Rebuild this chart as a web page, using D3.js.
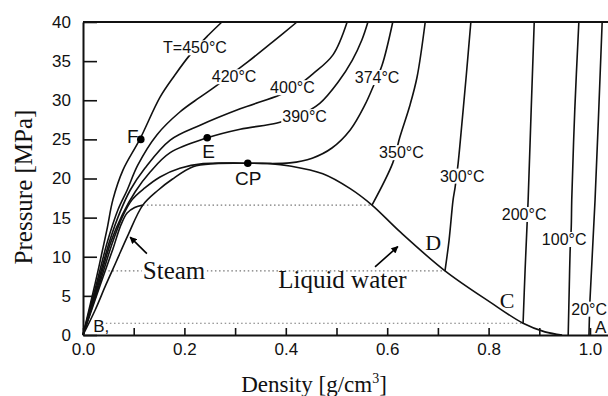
<!DOCTYPE html>
<html><head><meta charset="utf-8">
<script src="https://cdn.jsdelivr.net/npm/d3@7"></script>
<style>body{margin:0;background:#fff}svg{display:block}</style>
</head><body><svg id="c" width="608" height="396"></svg>
<script>
// ---- data (density g/cm3, pressure MPa) ----
const xTicks = [0,0.1,0.2,0.3,0.4,0.5,0.6,0.7,0.8,0.9,1.0];
const xTickLabels = ["0.0","","0.2","","0.4","","0.6","","0.8","","1.0"];
const yTicks = [0,5,10,15,20,25,30,35,40];

const iso450 = [[0,0],[0.024,6.6],[0.047,13.4],[0.059,17.3],[0.079,21.1],[0.112,25.0],[0.152,30.4],[0.181,33.2],[0.211,35.8],[0.247,38.3],[0.274,40]];
const iso420 = [[0,0],[0.026,6.4],[0.049,12.1],[0.069,16.0],[0.087,18.5],[0.108,21.7],[0.146,25.6],[0.191,28.5],[0.231,30.4],[0.264,31.9],[0.294,33.4],[0.325,34.9],[0.373,37.4],[0.422,40]];
const iso400 = [[0,0],[0.028,6.4],[0.053,12.1],[0.073,15.7],[0.093,18.5],[0.122,21.3],[0.172,24.9],[0.231,26.8],[0.310,28.9],[0.389,30.7],[0.422,31.8],[0.454,33.4],[0.493,35.8],[0.521,40]];
const iso390 = [[0,0],[0.030,6.4],[0.055,11.9],[0.077,15.3],[0.103,18.3],[0.132,20.8],[0.172,23.3],[0.245,25.2],[0.310,26.3],[0.383,27.1],[0.428,28.1],[0.467,29.6],[0.503,32.3],[0.531,35.1],[0.550,37.7],[0.562,40]];
const iso374 = [[0,0],[0.032,6.4],[0.057,11.6],[0.077,15.0],[0.097,17.3],[0.122,18.8],[0.152,20.2],[0.191,21.3],[0.237,21.9],[0.325,21.95],[0.408,22.0],[0.452,22.6],[0.491,23.9],[0.527,26.2],[0.556,29.4],[0.572,31.7],[0.590,34.5],[0.611,40]];
const iso350Vapor = [[0,0],[0.034,6.4],[0.059,11.0],[0.075,14.1],[0.087,15.6],[0.102,16.3],[0.118,16.6]];
const iso350Liquid = [[0.570,16.6],[0.611,22.0],[0.625,25.3],[0.645,29.4],[0.659,33.0],[0.675,40]];
const iso300 = [[0.714,8.2],[0.722,12.1],[0.730,17.3],[0.734,18.9],[0.740,22.0],[0.748,27.5],[0.756,33.2],[0.765,40]];
const iso200 = [[0.868,1.5],[0.872,8.3],[0.876,14.3],[0.878,17.3],[0.884,28.8],[0.890,40]];
const iso100 = [[0.957,0],[0.959,5.8],[0.961,11.1],[0.963,13.7],[0.964,17.3],[0.970,28.8],[0.978,40]];
const iso20 = [[0.998,0],[1.000,4.5],[1.010,17.3],[1.024,40]];
const satCurve = [[0,0],[0.024,3.2],[0.045,6.4],[0.065,9.3],[0.089,12.8],[0.118,16.6],[0.148,18.5],[0.176,19.9],[0.217,21.5],[0.260,21.9],[0.325,21.95],
  [0.369,21.9],[0.408,21.6],[0.473,20.6],[0.527,18.7],[0.570,16.6],[0.625,13.2],[0.714,8.2],[0.803,4.2],[0.868,1.5],[0.911,0.4],[0.945,0]];
const tiePressure = [16.6, 8.2, 1.5];
const tieVapor = [0.118, 0.050, 0.045];
const tieLiquid = [0.570, 0.714, 0.868];
const pointNames = ["F","E","CP"];
const pointDensity = [0.114, 0.245, 0.325];
const pointPressure = [25.0, 25.2, 21.95];

// labels: text, anchor (density, pressure), family, size, halo
const labels = [
  ["T=450°C",0.158,36.0,"s",16,1],["420°C",0.254,32.3,"s",16,1],["400°C",0.369,30.9,"s",16,1],
  ["390°C",0.393,27.2,"s",16,1],["374°C",0.536,32.2,"s",16,1],["350°C",0.584,22.6,"s",16,1],
  ["300°C",0.704,19.6,"s",16,1],["200°C",0.826,14.7,"s",16,1],["100°C",0.905,11.5,"s",16,1],
  ["20°C",0.963,2.6,"s",16,1],["A",1.010,0.26,"s",17,0],["B,",0.020,0.4,"s",17,0],
  ["C",0.822,3.5,"r",22,0],["D",0.675,10.9,"r",22,0],["CP",0.300,19.2,"s",19,0],
  ["E",0.235,22.6,"s",19,0],["F",0.087,24.5,"s",19,0],
  ["Steam",0.118,7.2,"r",25,1],["Liquid water",0.385,6.0,"r",25,0]
];
const arrows = [[0.126,10.4,0.093,12.5],[0.576,8.7,0.621,11.3]];

// ---- drawing ----
const SANS = "'Liberation Sans', Arial, Helvetica, sans-serif";
const SERIF = "'Liberation Serif', 'Times New Roman', serif";
const svg = d3.select("#c");
const x = d3.scaleLinear().domain([0, 1.0355]).range([83, 608]);
const y = d3.scaleLinear().domain([0, 40]).range([335, 22]);
const line = d3.line().x(d => x(d[0])).y(d => y(d[1])).curve(d3.curveCatmullRom.alpha(0.5));

svg.append("defs").append("marker").attr("id","ah").attr("viewBox","0 0 10 10")
  .attr("refX",9).attr("refY",5).attr("markerWidth",9).attr("markerHeight",7)
  .attr("markerUnits","userSpaceOnUse").attr("orient","auto")
  .append("path").attr("d","M0,0 L10,5 L0,10 Z").attr("fill","#000");

// tie lines
svg.append("g").selectAll("line").data(tiePressure).join("line")
  .attr("x1",(d,i)=>x(tieVapor[i])).attr("x2",(d,i)=>x(tieLiquid[i]))
  .attr("y1",d=>y(d)).attr("y2",d=>y(d))
  .attr("stroke","#777").attr("stroke-width",1.2).attr("stroke-dasharray","1.5,2.6");

const curves = [iso450, iso420, iso400, iso390, iso374, iso350Vapor, iso350Liquid, iso300, iso200, iso100, iso20, satCurve];
svg.append("g").selectAll("path").data(curves).join("path")
  .attr("d", line).attr("fill","none").attr("stroke","#111").attr("stroke-width",1.6);

// arrows
svg.append("g").selectAll("line").data(arrows).join("line")
  .attr("x1",d=>x(d[0])).attr("y1",d=>y(d[1])).attr("x2",d=>x(d[2])).attr("y2",d=>y(d[3]))
  .attr("stroke","#000").attr("stroke-width",1.6).attr("marker-end","url(#ah)");

// labels
const lg = svg.append("g");
labels.forEach(l => {
  const t = lg.append("text").attr("x", x(l[1])).attr("y", y(l[2]))
    .attr("font-family", l[3]==="s" ? SANS : SERIF).attr("font-size", l[4]).attr("fill","#111").text(l[0]);
  if (l[5]) {
    const b = t.node().getBBox();
    lg.insert("rect", () => t.node()).attr("x", b.x - 1).attr("y", b.y + 1)
      .attr("width", b.width + 2).attr("height", b.height - 2).attr("fill", "#fff");
  }
});

// points
svg.append("g").selectAll("circle").data(pointNames).join("circle")
  .attr("cx",(d,i)=>x(pointDensity[i])).attr("cy",(d,i)=>y(pointPressure[i])).attr("r",3.8).attr("fill","#000");

// axes
const yAxis = d3.axisLeft(y).tickValues(yTicks).tickSize(-14).tickSizeOuter(0).tickPadding(12);
const gy = svg.append("g").attr("transform","translate(83,0)").call(yAxis);
const xAxis = d3.axisBottom(x).tickValues(xTicks).tickSize(-7).tickSizeOuter(0).tickPadding(8)
  .tickFormat((d,i) => xTickLabels[i]);
const gx = svg.append("g").attr("transform","translate(0,335)").call(xAxis);
[gx, gy].forEach(g => {
  g.select(".domain").attr("stroke","#111").attr("stroke-width",2);
  g.selectAll(".tick line").attr("stroke","#111").attr("stroke-width",1.6);
  g.selectAll("text").attr("font-family",SANS).attr("font-size",17).attr("fill","#111");
});
svg.append("line").attr("x1",x(0)).attr("x2",608).attr("y1",y(40)).attr("y2",y(40))
  .attr("stroke","#111").attr("stroke-width",2);

// axis titles
svg.append("text").attr("transform","translate(32,187) rotate(-90)").attr("text-anchor","middle")
  .attr("font-family",SERIF).attr("font-size",25).attr("fill","#111").text("Pressure [MPa]");
const xt = svg.append("text").attr("x",314).attr("y",392).attr("text-anchor","middle")
  .attr("font-family",SERIF).attr("font-size",23).attr("fill","#111");
xt.append("tspan").text("Density [g/cm");
xt.append("tspan").attr("font-size",14).attr("dy",-9).text("3");
xt.append("tspan").attr("dy",9).text("]");
</script></body></html>
